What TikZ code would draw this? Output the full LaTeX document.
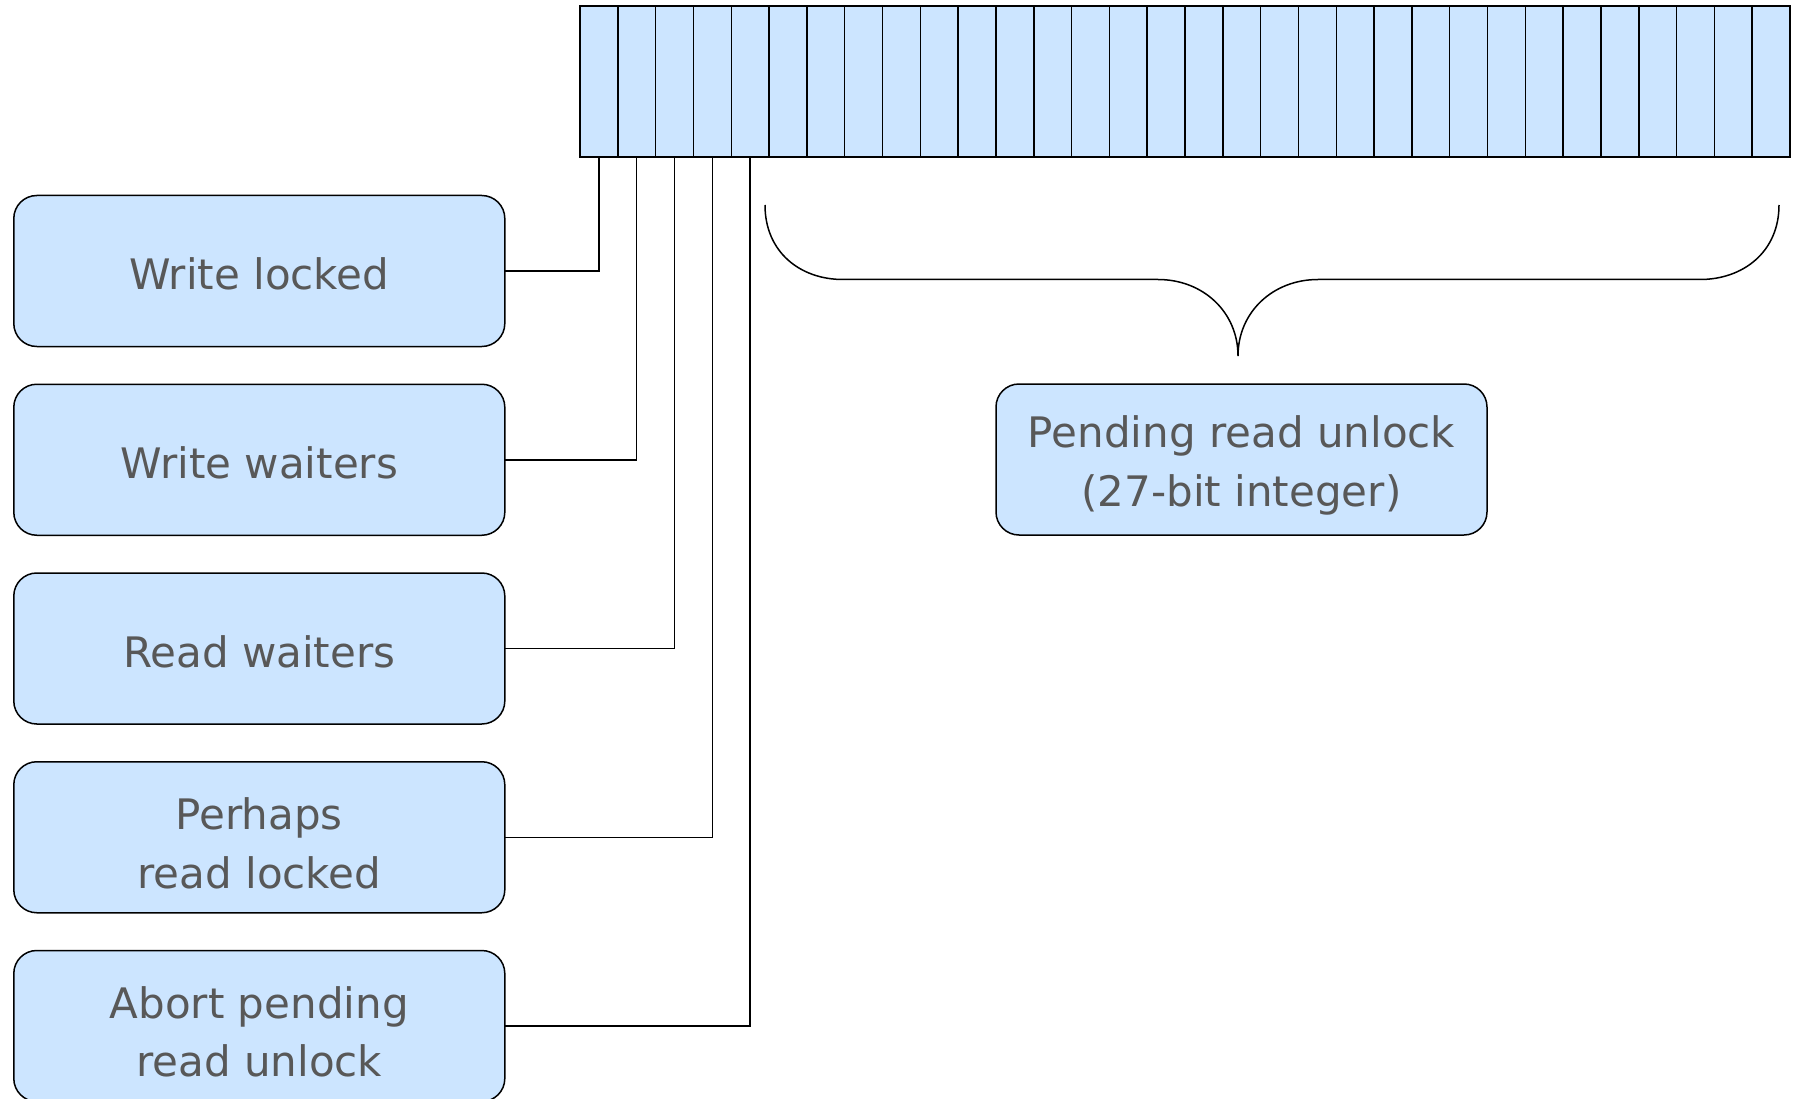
\documentclass[tikz,border=0pt]{standalone}
\usepackage{fontspec}
\setmainfont{DejaVu Sans}
\definecolor{cellblue}{RGB}{204,229,255}
\definecolor{labelgrey}{RGB}{88,88,88}
\begin{document}
\begin{tikzpicture}[x=1pt,y=-1pt,
  bitcell/.style={draw=black,fill=cellblue,line width=1.5pt,minimum width=37.8125pt,minimum height=151pt,inner sep=0pt,outer sep=0pt},
  fieldbox/.style={draw=black,fill=cellblue,line width=1.5pt,rounded corners=23pt,minimum width=491pt,minimum height=151pt,inner sep=0pt,outer sep=0pt},
  fieldtext/.style={text=labelgrey,align=center,inner sep=0pt,font=\fontsize{42}{58.5}\selectfont},
  link/.style={draw=black,line width=1.5pt}]
\clip (0,0) rectangle (1799,1099);
\useasboundingbox (0,0) rectangle (1799,1099);

% 32-bit word, bit cells b0..b31
\foreach \i in {0,...,31}{
  \node[bitcell] (b\i) at ({580+37.8125*(\i+0.5)},81.5) {};
}

% single-bit flags
\node[fieldbox] (wl) at (259.3,271)    {};
\node[fieldbox] (ww) at (259.3,459.75) {};
\node[fieldbox] (rw) at (259.3,648.5)  {};
\node[fieldbox] (pr) at (259.3,837.25) {};
\node[fieldbox] (ab) at (259.3,1026)   {};
\node[fieldtext] (wlt) at ([yshift=-3pt]wl.center) {Write locked};
\node[fieldtext] (wwt) at ([yshift=-3pt]ww.center) {Write waiters};
\node[fieldtext] (rwt) at ([yshift=-3pt]rw.center) {Read waiters};
\node[fieldtext] (prt) at ([yshift=-6pt]pr.center) {Perhaps\\read locked};
\node[fieldtext] (abt) at ([yshift=-6pt]ab.center) {Abort pending\\read unlock};

\draw[link] (wl.east) -| (b0.south);
\draw[link] (ww.east) -| (b1.south);
\draw[link] (rw.east) -| (b2.south);
\draw[link] (pr.east) -| (b3.south);
\draw[link] (ab.east) -| (b4.south);

% counter field spanning the remaining 27 bits
\node[fieldbox] (pend) at (1241.5,459.5) {};
\node[fieldtext] (pendt) at ([yshift=-6pt]pend.center) {Pending read unlock\\(27-bit integer)};

\coordinate (brl) at (765,205);
\coordinate (brtip) at (1238,356);
\coordinate (brr) at (1779,205);
\draw[link]
  (brl) .. controls (765,252) and (800,279.5) .. (843,279.5)
  -- (1158,279.5) .. controls (1203,279.5) and (1238,312) .. (brtip)
  .. controls (1238,312) and (1273,279.5) .. (1318,279.5)
  -- (1700,279.5) .. controls (1743,279.5) and (1779,252) .. (brr);
\end{tikzpicture}
\end{document}
